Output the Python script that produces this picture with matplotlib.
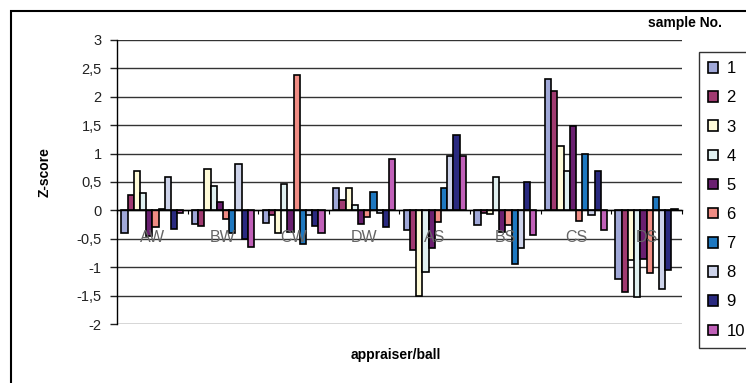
import numpy as np
import matplotlib
matplotlib.use("Agg")
from matplotlib import pyplot as plt
from matplotlib.patches import Rectangle
from matplotlib.ticker import FuncFormatter

plt.rcParams['font.family'] = ['Liberation Sans', 'DejaVu Sans']

categorias = ['AW', 'BW', 'CW', 'DW', 'AS', 'BS', 'CS', 'DS']
muestras = ['1', '2', '3', '4', '5', '6', '7', '8', '9', '10']

# z-score de cada muestra (1..10) por evaluador/bola
AW = [-0.40, 0.27, 0.69, 0.31, -0.45, -0.30, 0.03, 0.59, -0.32, -0.04]
BW = [-0.24, -0.27, 0.73, 0.42, 0.15, -0.15, -0.40, 0.82, -0.51, -0.64]
CW = [-0.22, -0.08, -0.39, 0.46, -0.38, 2.38, -0.59, -0.09, -0.28, -0.39]
DW = [0.39, 0.18, 0.39, 0.09, -0.24, -0.11, 0.32, -0.04, -0.29, 0.90]
AS = [-0.35, -0.70, -1.51, -1.09, -0.67, -0.21, 0.39, 0.96, 1.32, 0.95]
BS = [-0.26, -0.04, -0.07, 0.59, -0.38, -0.26, -0.95, -0.67, 0.49, -0.43]
CS = [2.31, 2.10, 1.13, 0.70, 1.48, -0.18, 0.99, -0.09, 0.69, -0.35]
DS = [-1.20, -1.44, -0.87, -1.52, -0.85, -1.11, 0.24, -1.38, -1.05, 0.03]

colores = ['#a0a8d8', '#a03a70', '#fffbd8', '#e0f0f0', '#6a1f70',
           '#f08c84', '#1e78c0', '#cdd3ea', '#2a2a80', '#c060b8']

datos = np.array([AW, BW, CW, DW, AS, BS, CS, DS])

fig = plt.figure(figsize=(7.46, 3.83), dpi=100)
ax = fig.add_axes([0.157, 0.154, 0.757, 0.742])

x = np.arange(len(categorias))
ancho = 0.088
for j in range(len(muestras)):
    ax.bar(x - 0.44 + ancho * (j + 0.5), datos[:, j], width=ancho,
           color=colores[j], edgecolor='black', linewidth=1.2,
           label=muestras[j], zorder=2)

ax.set_xlim(-0.5, len(categorias) - 0.5)
ax.set_ylim(-2, 3)
ax.set_yticks(np.arange(-2, 3.01, 0.5))
ax.yaxis.set_major_formatter(FuncFormatter(lambda v, p: ('%g' % v).replace('.', ',')))
ax.tick_params(axis='y', length=5, width=1, pad=6, labelsize=10.5, colors='#222222')
ax.yaxis.grid(True, color='#333333', linewidth=1)
ax.set_axisbelow(True)

ax.spines['top'].set_visible(False)
ax.spines['right'].set_visible(False)
ax.spines['left'].set_linewidth(1)
ax.spines['bottom'].set_position(('data', 0))
ax.spines['bottom'].set_linewidth(1)

# marcas entre categorias, etiquetas encima de las barras
ax.set_xticks(np.arange(len(categorias) + 1) - 0.5)
ax.set_xticklabels([])
ax.tick_params(axis='x', length=3, width=0.8)
for i, c in enumerate(categorias):
    ax.text(i, -0.47, c, ha='center', va='center', fontsize=11.5,
            color='#666666', zorder=5)

fig.text(45 / 746, 1 - 172 / 383, 'Z-score', rotation=90, ha='center',
         va='center', fontsize=10, fontweight='bold')
fig.text(0.53, 1 - 355 / 383, 'appraiser/ball', ha='center', va='center',
         fontsize=10, fontweight='bold')
fig.text(722 / 746, 1 - 23 / 383, 'sample No.', ha='right', va='center',
         fontsize=10, fontweight='bold')

leg = ax.legend(loc='upper left', bbox_to_anchor=(699 / 746, 1 - 52 / 383),
                bbox_transform=fig.transFigure, frameon=True, fancybox=False,
                fontsize=12, handlelength=0.6, handleheight=0.6,
                labelspacing=0.85, handletextpad=0.5, borderpad=0.55,
                borderaxespad=0)
leg.get_frame().set_edgecolor('black')
leg.get_frame().set_linewidth(1)

# marco exterior del grafico
fig.patches.append(Rectangle((11 / 746, -0.02), 1.0, 1 - 10.5 / 383 + 0.02,
                             transform=fig.transFigure, fill=False,
                             edgecolor='black', linewidth=1.5))

fig.savefig('out.png', dpi=100)
